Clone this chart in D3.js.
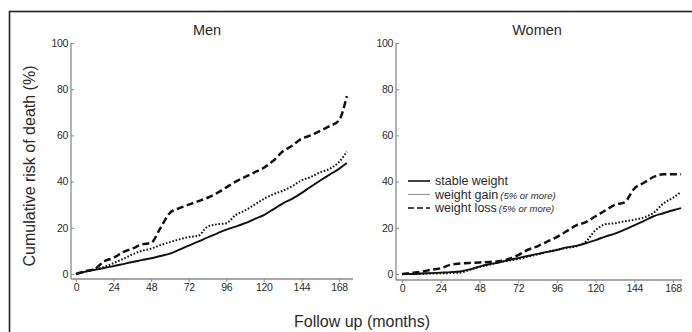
<!DOCTYPE html>
<html>
<head>
<meta charset="utf-8">
<script src="https://cdn.jsdelivr.net/npm/d3@7"></script>
<style>
  body { margin: 0; background: #fff; }
  text { font-family: "Liberation Sans", Arial, sans-serif; fill: #2a2a2a; }
</style>
</head>
<body>
<div class="container"></div>
<script>
// months of follow up and cumulative risk (%)
const menMonths    = [0, 6, 12, 18, 24, 30, 36, 42, 48, 54, 60, 66, 72, 78, 84, 90, 96, 102, 108, 114, 120, 126, 132, 138, 144, 150, 156, 162, 168, 173];
const menStable    = [0, 1, 1.8, 2.6, 3.4, 4.3, 5.2, 6, 6.8, 7.8, 8.8, 10.5, 12.3, 14, 15.8, 17.5, 19.2, 20.5, 22, 23.8, 25.5, 28, 30.5, 32.5, 35, 37.8, 40.5, 43, 45.5, 48];
const menGain      = [0, 1, 2, 3, 4.7, 6.5, 8.5, 10, 11, 12.5, 13.8, 15, 16, 16.5, 20.5, 21.5, 22, 25.5, 27.5, 30, 32.5, 34.5, 36, 38, 40.5, 42, 44, 45.5, 48.5, 53];
const menLoss      = [0, 1.2, 2.2, 5.5, 7, 9.5, 11, 12.8, 13.5, 20, 26.5, 28.5, 30, 31.5, 33, 35, 37.5, 40, 42, 44, 46, 49, 53, 55.5, 58.5, 60, 62, 64, 66.5, 77];

const womenMonths  = [0, 6, 12, 18, 24, 30, 36, 42, 48, 54, 60, 66, 72, 78, 84, 90, 96, 102, 108, 114, 120, 126, 132, 138, 144, 150, 156, 162, 168, 173];
const womenStable  = [0, 0, 0.2, 0.4, 0.6, 0.8, 1.1, 2, 3.2, 4.2, 5, 6, 6.9, 7.8, 8.7, 9.6, 10.4, 11.5, 12.2, 13.3, 14.7, 16.2, 17.5, 19.2, 21, 23, 25, 26.3, 27.6, 28.5];
const womenGain    = [0, 0, 0.1, 0.2, 0.3, 0.4, 0.6, 1.8, 3, 4, 5, 5.8, 6.5, 7.5, 8.5, 9.5, 10.5, 11.3, 12, 14, 19, 21.5, 22, 22.8, 23.5, 24.5, 26.5, 30.5, 33, 35.5];
const womenLoss    = [0, 0.5, 1, 1.8, 2.5, 4, 4.5, 4.8, 5, 5.2, 5.5, 6.5, 8.2, 10.5, 12, 14, 16, 18.5, 21, 22.5, 25, 27.5, 30, 31, 37, 39.5, 42, 43.2, 43.2, 43.2];

const xTicks = [0, 24, 48, 72, 96, 120, 144, 168];
const yTicks = [0, 20, 40, 60, 80, 100];

const seriesNames = ['stable weight', 'weight gain', 'weight loss'];
const seriesNotes = ['', '(5% or more)', '(5% or more)'];

const W = 692, H = 332;

var styleFor = function (i) {
  if (i === 0) return { width: 1.9, dash: null };
  if (i === 1) return { width: 2, dash: '1.6,1.8' };
  return { width: 2.5, dash: '7,3.5' };
};

var drawPanel = function (svg, opt) {
  var x = d3.scaleLinear().domain([0, 168]).range([opt.x0, opt.x168]);
  var y = d3.scaleLinear().domain([0, 100]).range([274, 43]);

  // axis lines sit slightly away from the data origin
  var xAxis = d3.axisBottom(x).tickValues(xTicks).tickSize(3).tickPadding(2);
  var gx = svg.append('g').attr('transform', 'translate(0,' + opt.axisY + ')').call(xAxis);
  gx.select('.domain').attr('d', 'M' + opt.axisX + ',0H' + opt.axisEnd);

  var yAxis = d3.axisLeft(y).tickValues(yTicks).tickSize(-3).tickPadding(4);
  var gy = svg.append('g').attr('transform', 'translate(' + opt.axisX + ',0)').call(yAxis);
  gy.select('.domain').attr('d', 'M0,' + y(100) + 'V' + opt.axisY);
  gy.selectAll('.tick text').attr('x', -3);

  [gx, gy].forEach(function (g) {
    g.selectAll('.domain').attr('stroke', '#8a8a8a').attr('stroke-width', 1.3);
    g.selectAll('.tick line').attr('stroke', '#8a8a8a');
    g.selectAll('.tick text')
      .style('font-size', '10.5px')
      .style('letter-spacing', '-0.3px')
      .style('fill', '#2a2a2a');
  });

  svg.append('text')
    .attr('x', opt.titleX).attr('y', 35)
    .attr('text-anchor', 'middle')
    .style('font-size', '14.5px')
    .text(opt.title);

  opt.series.forEach(function (vals, i) {
    var st = styleFor(i);
    var pts = opt.months.map(function (m, j) { return [m, vals[j]]; });
    svg.append('path')
      .datum(pts)
      .attr('d', d3.line().x(function (d) { return x(d[0]); }).y(function (d) { return y(d[1]); }).curve(d3.curveMonotoneX))
      .attr('fill', 'none')
      .attr('stroke', '#111')
      .attr('stroke-width', st.width)
      .attr('stroke-dasharray', st.dash);
  });
};

var drawLegend = function (svg) {
  var lx = 408, ly = 181, gap = 13.5;
  seriesNames.forEach(function (name, i) {
    var st = styleFor(i);
    var yy = ly + i * gap;
    svg.append('line')
      .attr('x1', lx).attr('x2', lx + 22)
      .attr('y1', yy).attr('y2', yy)
      .attr('stroke', i === 1 ? '#9a9a9a' : '#111')
      .attr('stroke-width', i === 1 ? 1.2 : 1.6)
      .attr('stroke-dasharray', i === 2 ? '6,3' : null);
    var t = svg.append('text')
      .attr('x', lx + 27).attr('y', yy + 4)
      .style('font-size', '12.5px');
    t.append('tspan').text(name);
    if (seriesNotes[i]) {
      t.append('tspan')
        .attr('dx', 2)
        .style('font-size', '9.5px')
        .style('font-style', 'italic')
        .text(seriesNotes[i]);
    }
  });
};

var display = function () {
  var svg = d3.select('.container').append('svg')
    .attr('width', W)
    .attr('height', H);

  svg.append('rect')
    .attr('x', 9.5).attr('y', 11.5)
    .attr('width', 720).attr('height', 400)
    .attr('fill', 'none')
    .attr('stroke', '#222')
    .attr('stroke-width', 1.6);

  drawPanel(svg, {
    title: 'Men', titleX: 207,
    x0: 76, x168: 339, axisX: 71, axisY: 279, axisEnd: 353,
    months: menMonths, series: [menStable, menGain, menLoss]
  });

  drawPanel(svg, {
    title: 'Women', titleX: 537,
    x0: 402, x168: 673, axisX: 396, axisY: 280, axisEnd: 682,
    months: womenMonths, series: [womenStable, womenGain, womenLoss]
  });

  drawLegend(svg);

  svg.append('text')
    .attr('transform', 'translate(35,166) rotate(-90)')
    .attr('text-anchor', 'middle')
    .style('font-size', '16px')
    .text('Cumulative risk of death (%)');

  svg.append('text')
    .attr('x', 362).attr('y', 327)
    .attr('text-anchor', 'middle')
    .style('font-size', '16px')
    .text('Follow up (months)');
};

window.onload = display;
</script>
</body>
</html>
